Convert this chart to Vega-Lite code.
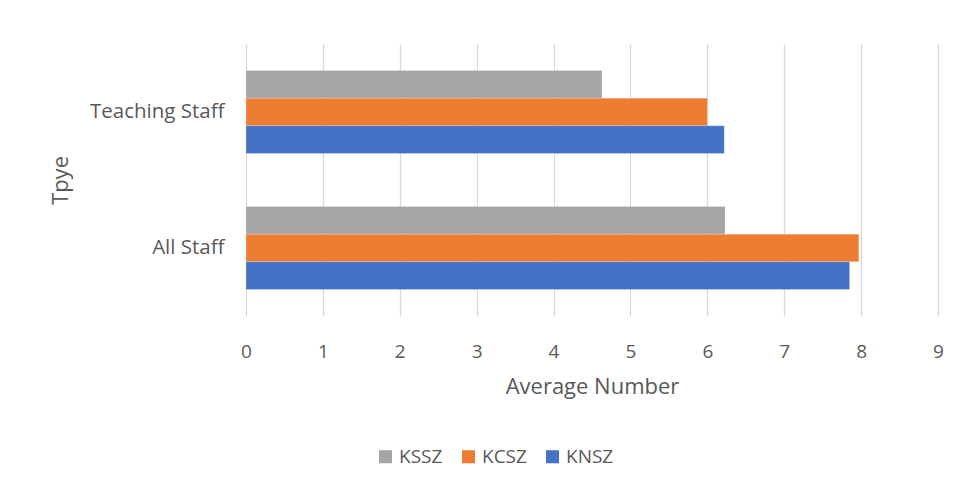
{
  "$schema": "https://vega.github.io/schema/vega-lite/v6.json",
  "autosize": {"type": "none"},
  "width": 692,
  "height": 272,
  "padding": {"left": 246, "top": 44, "right": 23, "bottom": 172},
  "background": "white",
  "config": {
    "font": "Open Sans",
    "view": {"stroke": null},
    "axis": {"labelColor": "#595959", "titleColor": "#595959", "titleFontWeight": "normal", "domain": false, "ticks": false}
  },
  "data": {
    "values": [
      {"Type": "Teaching Staff", "Series": "KSSZ", "Value": 4.63},
      {"Type": "Teaching Staff", "Series": "KCSZ", "Value": 6.0},
      {"Type": "Teaching Staff", "Series": "KNSZ", "Value": 6.22},
      {"Type": "All Staff", "Series": "KSSZ", "Value": 6.23},
      {"Type": "All Staff", "Series": "KCSZ", "Value": 7.97},
      {"Type": "All Staff", "Series": "KNSZ", "Value": 7.85}
    ]
  },
  "mark": {"type": "bar", "stroke": "white", "strokeWidth": 0.5, "strokeOpacity": 0.4},
  "encoding": {
    "y": {
      "field": "Type", "type": "nominal",
      "sort": ["Teaching Staff", "All Staff"],
      "scale": {"paddingInner": 0.39, "paddingOuter": 0.195},
      "axis": {"title": "Tpye", "labelFontSize": 20.5, "labelPadding": 22, "titleFontSize": 22, "titlePadding": 17, "grid": false}
    },
    "yOffset": {"field": "Series", "type": "nominal", "sort": ["KSSZ", "KCSZ", "KNSZ"], "scale": {"paddingInner": 0, "paddingOuter": 0}},
    "x": {
      "field": "Value", "type": "quantitative",
      "scale": {"domain": [0, 9], "nice": false},
      "axis": {"title": "Average Number", "values": [0,1,2,3,4,5,6,7,8,9], "labelFlush": false, "labelFontSize": 19, "labelPadding": 26, "titleFontSize": 22, "titlePadding": 15, "grid": true, "gridColor": "#D9D9D9", "gridWidth": 1.3}
    },
    "color": {
      "field": "Series", "type": "nominal",
      "sort": ["KSSZ", "KCSZ", "KNSZ"],
      "scale": {"domain": ["KSSZ", "KCSZ", "KNSZ"], "range": ["#A5A5A5", "#ED7D31", "#4472C4"]},
      "legend": {"title": null, "orient": "none", "direction": "horizontal", "legendX": 130, "legendY": 403, "symbolType": "square", "symbolSize": 170, "symbolStrokeWidth": 0, "labelFontSize": 19, "labelColor": "#595959", "columnPadding": 16, "labelOffset": 4}
    }
  }
}
